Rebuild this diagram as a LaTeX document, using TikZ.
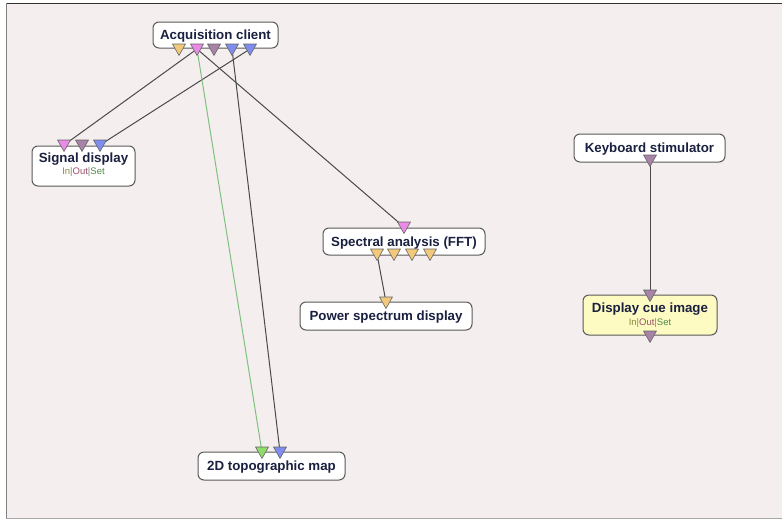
\documentclass[tikz,border=0pt]{standalone}
\usepackage{fontspec}
\setmainfont{Liberation Sans}
\definecolor{bgc}{HTML}{F4EEEE}
\definecolor{txt}{HTML}{1A2040}
\definecolor{pTan}{HTML}{F2C97A}
\definecolor{pPink}{HTML}{E98BE6}
\definecolor{pMauve}{HTML}{A982A8}
\definecolor{pBlue}{HTML}{7F8DF0}
\definecolor{pGreen}{HTML}{8EDC6A}
\definecolor{linec}{HTML}{4A4A4A}
\definecolor{greenline}{HTML}{7FC07F}
\definecolor{cuefill}{HTML}{FDFBC2}
\definecolor{cIn}{HTML}{8C8A3C}
\definecolor{cOut}{HTML}{9A4F66}
\definecolor{cSet}{HTML}{4E8A4E}
\newcommand{\mypin}[4]{%
  \filldraw[fill=#4,draw=black!60,line width=0.6pt,line join=round]
    (#2-6.5,#3) -- (#2+6.5,#3) -- (#2,#3+11.5) -- cycle;
  \coordinate (#1) at (#2,#3+5);}
\tikzset{
  titlefont/.style={text=txt,font=\fontsize{13.3}{15}\selectfont\bfseries},
  box/.style={draw=black!65,line width=1pt,fill=white,rounded corners=6pt,
    titlefont,inner sep=0pt,text depth=0pt},
  wire/.style={draw=linec,line width=1pt},
  sub/.style={font=\fontsize{9.5}{10}\selectfont},
}
\begin{document}
\begin{tikzpicture}[x=1pt,y=-1pt]
\useasboundingbox (0,0) rectangle (782,520);
\fill[white] (0,0) rectangle (782,520);
\fill[bgc] (6,3) rectangle (782,518);
\draw[black!80,line width=1pt] (6,3) -- (782,3);
\draw[black!50,line width=1pt] (6,3) -- (6,518);
\draw[black!35,line width=1pt] (6,518) -- (782,518);

% boxes
\node[box,minimum width=125pt,minimum height=26pt] (acq) at (215.5,35) {Acquisition client};
\node[box,minimum width=103pt,minimum height=40pt] (sig) at (83.5,166) {};
\node[titlefont] (sigt) at (83.5,159) {Signal display};
\node[sub] (sigs) at (83.5,172.5) {\textcolor{cIn}{In}\textcolor{black!50}{|}\textcolor{cOut}{Out}\textcolor{black!50}{|}\textcolor{cSet}{Set}};
\node[box,minimum width=162pt,minimum height=27pt] (spec) at (404,241.5) {Spectral analysis (FFT)};
\node[box,minimum width=172pt,minimum height=28pt] (pow) at (386,316) {Power spectrum display};
\node[box,minimum width=151pt,minimum height=28pt] (kb) at (649.5,148) {Keyboard stimulator};
\node[box,fill=cuefill,minimum width=134pt,minimum height=40pt] (cue) at (650,315) {};
\node[titlefont] (cuet) at (650,309) {Display cue image};
\node[sub] (cues) at (650,323) {\textcolor{cIn}{In}\textcolor{black!50}{|}\textcolor{cOut}{Out}\textcolor{black!50}{|}\textcolor{cSet}{Set}};
\node[box,minimum width=147pt,minimum height=28pt] (topo) at (271.5,466) {2D topographic map};

% pin anchors
\coordinate (a1) at (179,49); \coordinate (a2) at (197,49);
\coordinate (a3) at (214,49); \coordinate (a4) at (232,49);
\coordinate (a5) at (250,49);
\coordinate (s1) at (64,145); \coordinate (s2) at (82,145); \coordinate (s3) at (100,145);
\coordinate (fi) at (404,227);
\coordinate (fo1) at (377,254);
\coordinate (pi) at (386,302);
\coordinate (ko) at (650,160);
\coordinate (ci) at (650,295);
\coordinate (t1) at (262,452); \coordinate (t2) at (280,452);

% connectors
\draw[wire] (a2) -- (s1);
\draw[wire] (a5) -- (s3);
\draw[wire] (a2) -- (fi);
\draw[draw=greenline,line width=1pt] (a2) -- (t1);
\draw[wire] (a4) -- (t2);
\draw[wire] (fo1) -- (pi);
\draw[wire] (ko) -- (ci);

% pins
\mypin{pa1}{179}{44}{pTan}
\mypin{pa2}{197}{44}{pPink}
\mypin{pa3}{214}{44}{pMauve}
\mypin{pa4}{232}{44}{pBlue}
\mypin{pa5}{250}{44}{pBlue}
\mypin{ps1}{64}{140}{pPink}
\mypin{ps2}{82}{140}{pMauve}
\mypin{ps3}{100}{140}{pBlue}
\mypin{pfi}{404}{222}{pPink}
\mypin{pfo1}{377}{249}{pTan}
\mypin{pfo2}{394}{249}{pTan}
\mypin{pfo3}{412}{249}{pTan}
\mypin{pfo4}{430}{249}{pTan}
\mypin{ppi}{386}{297}{pTan}
\mypin{pko}{650}{155}{pMauve}
\mypin{pci}{650}{290}{pMauve}
\mypin{pco}{650}{331}{pMauve}
\mypin{pt1}{262}{447}{pGreen}
\mypin{pt2}{280}{447}{pBlue}
\end{tikzpicture}
\end{document}
